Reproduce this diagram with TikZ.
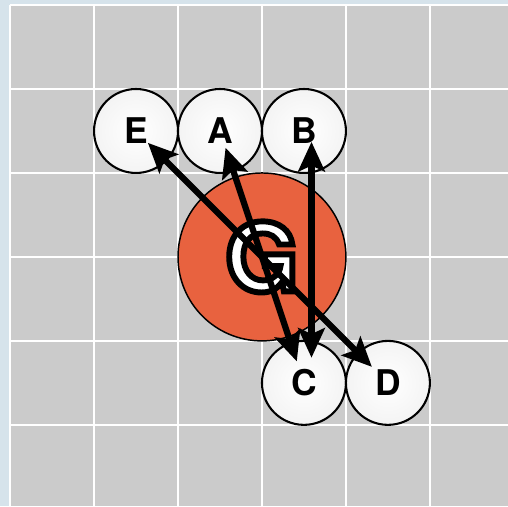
\documentclass[tikz,border=0pt]{standalone}
\usepackage{fontspec}
\setmainfont{TeX Gyre Heros}
\usetikzlibrary{arrows.meta}

\definecolor{bgblue}{HTML}{D6E3EB}
\definecolor{panelgrey}{HTML}{CBCBCB}
\definecolor{gred}{HTML}{E8623F}

% white letter with a black outline (text render mode 2)
\newcommand\outlined[1]{\special{pdf:literal q 2 Tr 2 w 0 0 0 RG 1 1 1 rg}#1\special{pdf:literal Q}}

\tikzset{
    gridline/.style={white, line width=0.8pt},
    ball/.style={circle, draw=black, line width=0.7pt, minimum size=1cm, inner sep=0pt,
        inner color=white, outer color=gray!9, font=\bfseries\fontsize{12}{12}\selectfont},
    bigball/.style={circle, draw=black, line width=0.5pt, fill=gred, minimum size=2cm, inner sep=0pt,
        font=\bfseries\fontsize{32}{32}\selectfont},
    link/.style={black, line width=2.1pt, {Stealth[length=10pt,width=9pt,inset=2pt]}-{Stealth[length=10pt,width=9pt,inset=2pt]}}
}

\begin{document}
\begin{tikzpicture}

        % Background and grid
        \useasboundingbox (-0.12,0.03) rectangle (5.93,6.06);
        \fill[bgblue] (-0.12,0.03) rectangle (5.93,6.06);
        \fill[panelgrey] (0,0.03) rectangle (5.93,6);
        \foreach \x in {0,...,5}
            \draw[gridline] (\x,0.03) -- (\x,6);
        \foreach \y in {1,...,6}
            \draw[gridline] (0,\y) -- (5.93,\y);

        % Big circle in the middle
        \node[bigball] (G) at (3,3) {\outlined{G}};

        % Small circles
        \node[ball] (E) at (1.5,4.5) {E};
        \node[ball] (A) at (2.5,4.5) {A};
        \node[ball] (B) at (3.5,4.5) {B};
        \node[ball] (C) at (3.5,1.5) {C};
        \node[ball] (D) at (4.5,1.5) {D};

        % Arrows
        \draw[link, shorten <=0.2cm, shorten >=0.27cm] (E.center) -- (D.center);
        \draw[link, shorten <=0.21cm, shorten >=0.27cm] (A.center) -- (C.center);
        \draw[link, shorten <=0.13cm, shorten >=0.3cm] ([xshift=0.09cm]B.center) -- ([xshift=0.09cm]C.center);

    \end{tikzpicture}
\end{document}
